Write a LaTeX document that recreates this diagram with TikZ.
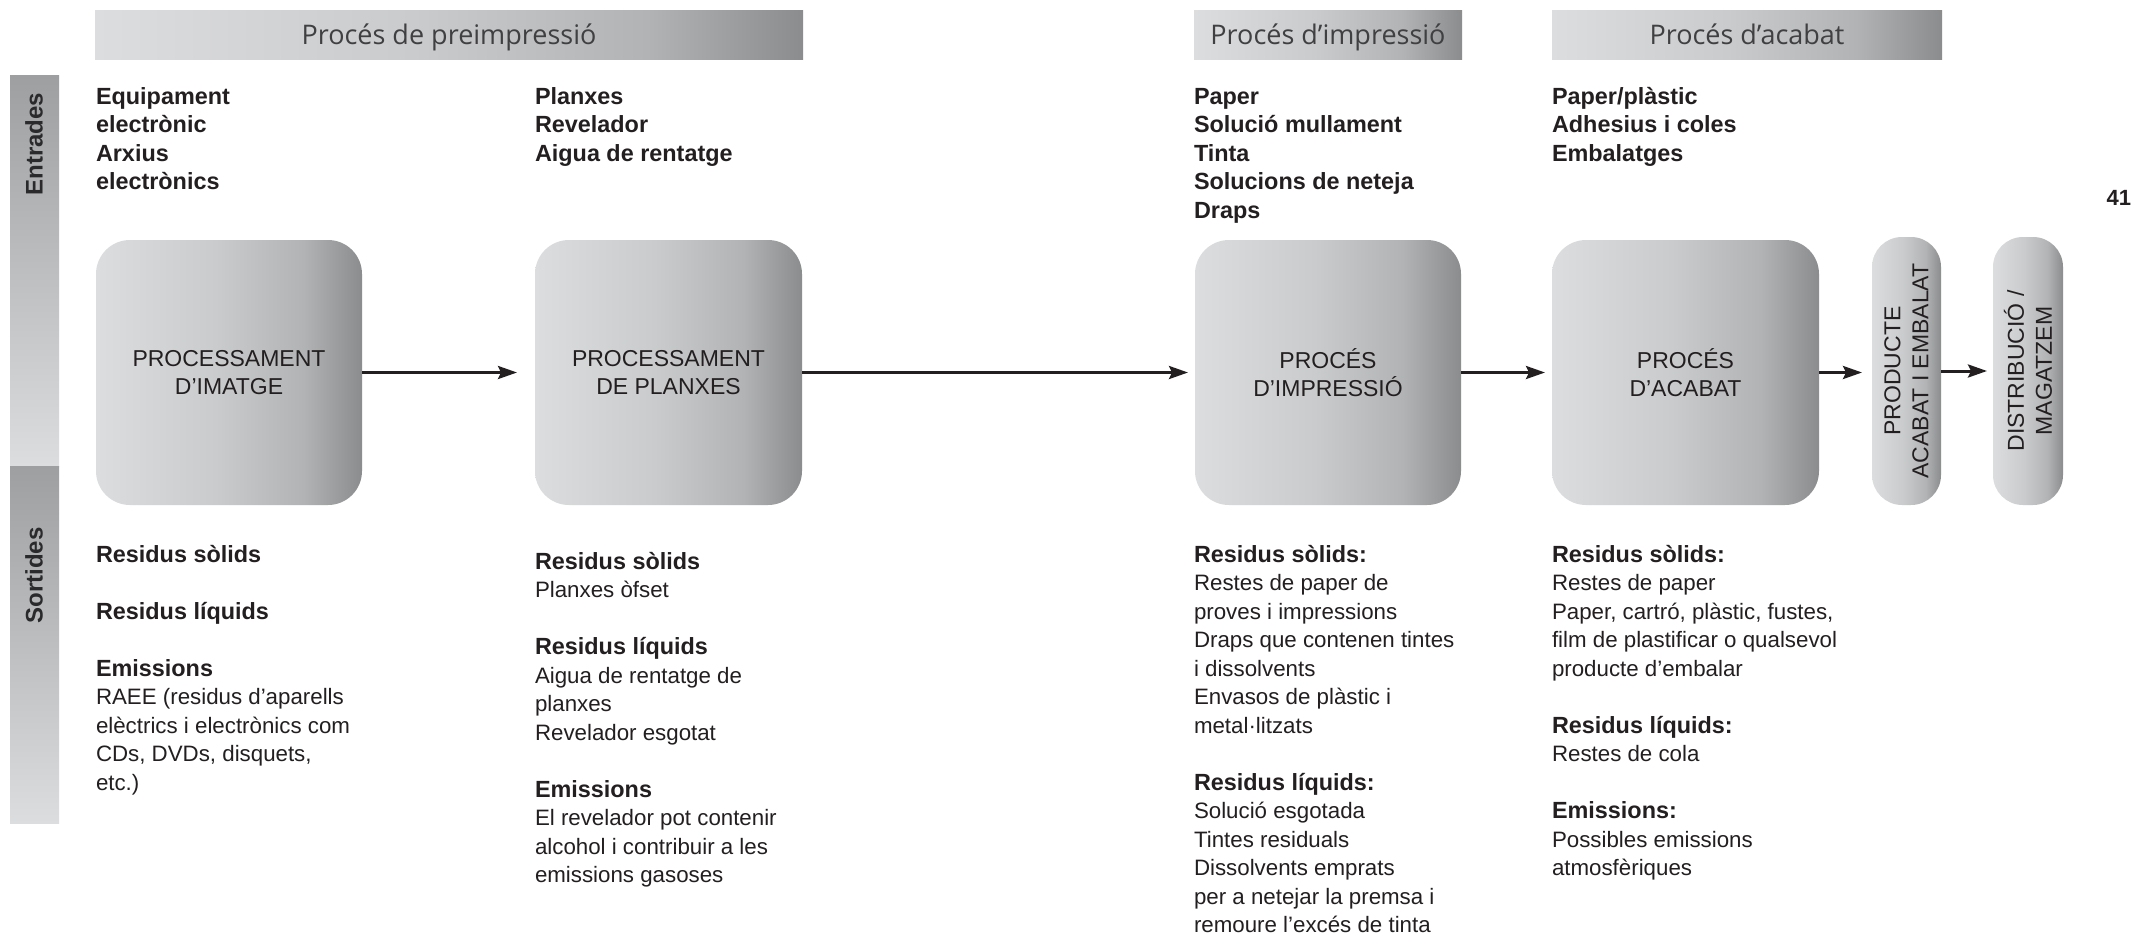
\documentclass[tikz,border=0pt]{standalone}
\usepackage{fontspec}
\setmainfont{Liberation Sans}
\newfontfamily\titlefamily{Open Sans}
\usetikzlibrary{arrows.meta}

\definecolor{ink}{HTML}{231F20}
\definecolor{hdrtext}{HTML}{404042}
\definecolor{sidetext}{HTML}{2A2A2C}
\definecolor{fadeA}{HTML}{DCDDDF}
\definecolor{fadeB}{HTML}{CACBCD}
\definecolor{fadeC}{HTML}{B2B3B5}
\definecolor{fadeD}{HTML}{8B8C8E}
\definecolor{sideTop}{HTML}{9E9FA1}
\definecolor{sideBot}{HTML}{DCDDDF}

% left-to-right grey fade; the path box maps onto 25bp..75bp
\pgfdeclarehorizontalshading{greyfade}{100bp}{color(0bp)=(fadeA); color(25bp)=(fadeA); color(47.5bp)=(fadeB); color(64bp)=(fadeC); color(75bp)=(fadeD); color(100bp)=(fadeD)}

\newcommand\bodyfont{\fontsize{22.3}{28.5}\selectfont}
\newcommand\hd[1]{{\fontsize{23.4}{28.5}\selectfont\bfseries #1}}
\newcommand\firstline{\rule{0pt}{22pt}}
\newcommand\boxfont{\fontsize{23}{28}\selectfont}
\newcommand\titlefont{\titlefamily\fontsize{27}{30}\selectfont}
\newcommand\sidefont{\fontsize{24}{28}\selectfont\bfseries}

\begin{document}
\begin{tikzpicture}[x=1pt,y=-1pt,
  every node/.style={inner sep=0pt, outer sep=0pt},
  band/.style={shading=greyfade, draw=none},
  stage/.style={band, rounded corners=34pt, minimum width=266pt, minimum height=265pt,
                align=center, font=\boxfont, text=ink},
  pill/.style={band, rounded corners=30pt, minimum width=69pt, minimum height=268pt},
  hdrbar/.style={band, minimum height=49pt, font=\titlefont, text=hdrtext,
                 text height=19.3pt, text depth=0pt},
  sidebar/.style={minimum width=49pt, top color=sideTop, bottom color=sideBot, draw=none},
  sidelabel/.style={rotate=90, font=\sidefont, text=sidetext},
  flowarrow/.style={line width=3pt, draw=ink, -{Stealth[length=19pt,width=13pt,inset=3pt]}},
  col/.style={anchor=north west, align=left, font=\bodyfont, text=ink}
]
\useasboundingbox (0,0) rectangle (2134,940);
\fill[white] (0,0) rectangle (2134,940);

% stage title bars
\node[hdrbar, minimum width=708pt] (h1) at (449,34.5) {Procés de preimpressió};
\node[hdrbar, minimum width=268pt] (h2) at (1328,34.5) {Procés d’impressió};
\node[hdrbar, minimum width=390pt] (h3) at (1747,34.5) {Procés d’acabat};

% side bars
\node[sidebar, minimum height=391pt] (inbar) at (34.5,270.5) {};
\node[sidebar, minimum height=357pt] (outbar) at (34.5,644.5) {};
\node[sidelabel] (inlbl) at (34,144) {Entrades};
\node[sidelabel] (outlbl) at (34,575.5) {Sortides};

% page number
\node[anchor=base east, font=\fontsize{22}{24}\selectfont\bfseries, text=ink] (pg) at (2131,205) {41};

% process stages
\node[stage] (b1) at (229,372.5) {PROCESSAMENT\\D’IMATGE};
\node[stage, minimum width=267pt] (b2) at (668.5,372.5) {PROCESSAMENT\\DE PLANXES};
\node[stage] (b3) at (1328,372.5) {PROCÉS\\D’IMPRESSIÓ};
\node[stage, minimum width=267pt] (b4) at (1685.5,372.5) {PROCÉS\\D’ACABAT};
\node[pill] (p1) at (1906.5,371) {};
\node[pill, minimum width=70pt] (p2) at (2028,371) {};
\node[rotate=90, align=center, font=\boxfont, text=ink] (p1t) at (p1) {PRODUCTE\\ACABAT I EMBALAT};
\node[rotate=90, align=center, font=\boxfont, text=ink] (p2t) at (p2) {DISTRIBUCIÓ /\\MAGATZEM};

% flow
\draw[flowarrow, shorten >=18pt] (b1.east) -- (b2.west);
\draw[flowarrow, shorten >=7pt] (b2.east) -- (b3.west);
\draw[flowarrow, shorten >=7pt] (b3.east) -- (b4.west);
\draw[flowarrow, shorten >=10pt] (b4.east) -- (b4.east -| p1.west);
\draw[flowarrow, shorten >=6pt] (p1.east) -- (p2.west);

% inputs
\node[col] (in1) at (96,82) {\firstline\hd{Equipament}\\\hd{electrònic}\\\hd{Arxius}\\\hd{electrònics}};
\node[col] (in2) at (535,82) {\firstline\hd{Planxes}\\\hd{Revelador}\\\hd{Aigua de rentatge}};
\node[col] (in3) at (1194,82) {\firstline\hd{Paper}\\\hd{Solució mullament}\\\hd{Tinta}\\\hd{Solucions de neteja}\\\hd{Draps}};
\node[col] (in4) at (1552,82) {\firstline\hd{Paper/plàstic}\\\hd{Adhesius i coles}\\\hd{Embalatges}};

% outputs
\node[col] (out1) at (96,540) {\firstline\hd{Residus sòlids}\\[28.5pt]
  \hd{Residus líquids}\\[28.5pt]
  \hd{Emissions}\\
  RAEE (residus d’aparells\\
  elèctrics i electrònics com\\
  CDs, DVDs, disquets,\\
  etc.)};
\node[col] (out2) at (535,547) {\firstline\hd{Residus sòlids}\\
  Planxes òfset\\[28.5pt]
  \hd{Residus líquids}\\
  Aigua de rentatge de\\
  planxes\\
  Revelador esgotat\\[28.5pt]
  \hd{Emissions}\\
  El revelador pot contenir\\
  alcohol i contribuir a les\\
  emissions gasoses};
\node[col] (out3) at (1194,540) {\firstline\hd{Residus sòlids:}\\
  Restes de paper de\\
  proves i impressions\\
  Draps que contenen tintes\\
  i dissolvents\\
  Envasos de plàstic i\\
  metal·litzats\\[28.5pt]
  \hd{Residus líquids:}\\
  Solució esgotada\\
  Tintes residuals\\
  Dissolvents emprats\\
  per a netejar la premsa i\\
  remoure l’excés de tinta};
\node[col] (out4) at (1552,540) {\firstline\hd{Residus sòlids:}\\
  Restes de paper\\
  Paper, cartró, plàstic, fustes,\\
  film de plastificar o qualsevol\\
  producte d’embalar\\[28.5pt]
  \hd{Residus líquids:}\\
  Restes de cola\\[28.5pt]
  \hd{Emissions:}\\
  Possibles emissions\\
  atmosfèriques};
\end{tikzpicture}
\end{document}
